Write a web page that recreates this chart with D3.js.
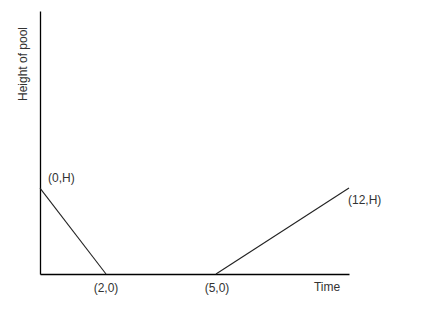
<!DOCTYPE html>
<html>
<head>
<meta charset="utf-8">
<script src="https://cdn.jsdelivr.net/npm/d3@7"></script>
<style>
  body { margin: 0; background: #fff; }
  text { font-family: "Liberation Sans", Arial, sans-serif; font-size: 12px; fill: #333; }
</style>
</head>
<body>
<script>
// sketch points: time, height (in units of H)
const times = [0, 2, 5, 12];
const heights = [1, 0, 0, 1];
const pointLabels = ["(0,H)", "(2,0)", "(5,0)", "(12,H)"];

const svg = d3.select("body").append("svg")
    .attr("width", 429)
    .attr("height", 318);

// the sketch is not drawn to scale, so the time axis is piecewise
const x = d3.scaleLinear()
    .domain([0, 2, 5, 12])
    .range([40, 106, 216, 349]);

const y = d3.scaleLinear()
    .domain([0, 3.06])
    .range([274, 11]);

const data = times.map((t, i) => ({ t: t, h: heights[i], label: pointLabels[i] }));

svg.append("g")
    .attr("transform", "translate(0," + y(0) + ")")
    .call(d3.axisBottom(x).tickValues([]).tickSizeOuter(0))
    .select(".domain").attr("stroke", "#000").attr("stroke-width", 1.3);

svg.append("g")
    .attr("transform", "translate(" + x(0) + ",0)")
    .call(d3.axisLeft(y).tickValues([]).tickSizeOuter(0))
    .select(".domain").attr("stroke", "#000").attr("stroke-width", 1.3);

const line = d3.line()
    .x(d => x(d.t))
    .y(d => y(d.h));

// draining then filling segments (no line drawn along the empty stretch)
svg.append("path")
    .datum(data.slice(0, 2))
    .attr("d", line)
    .attr("fill", "none")
    .attr("stroke", "#222")
    .attr("stroke-width", 1.1);

svg.append("path")
    .datum(data.slice(2, 4))
    .attr("d", line)
    .attr("fill", "none")
    .attr("stroke", "#222")
    .attr("stroke-width", 1.1);

const offsets = [
    { dx: 8, dy: -6, anchor: "start" },
    { dx: 0, dy: 18, anchor: "middle" },
    { dx: 1, dy: 18, anchor: "middle" },
    { dx: -1, dy: 16, anchor: "start" }
];

svg.selectAll("text.pt")
    .data(data)
    .enter().append("text")
    .attr("class", "pt")
    .attr("x", (d, i) => x(d.t) + offsets[i].dx)
    .attr("y", (d, i) => y(d.h) + offsets[i].dy)
    .attr("text-anchor", (d, i) => offsets[i].anchor)
    .text(d => d.label);

svg.append("text")
    .attr("x", 327)
    .attr("y", y(0) + 17)
    .attr("text-anchor", "middle")
    .text("Time");

svg.append("text")
    .attr("transform", "translate(27,64) rotate(-90)")
    .attr("text-anchor", "middle")
    .text("Height of pool");
</script>
</body>
</html>
